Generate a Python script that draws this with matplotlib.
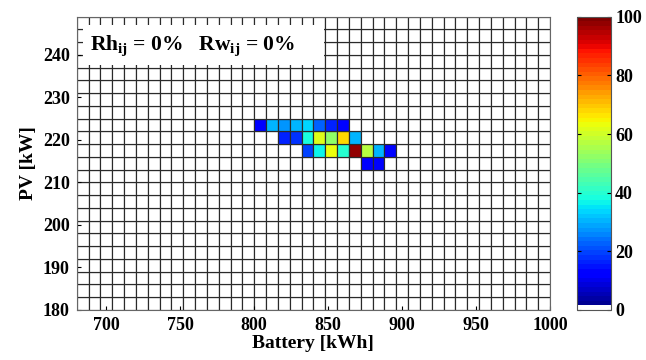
import numpy as np
import matplotlib
matplotlib.use("Agg")
import matplotlib.pyplot as plt
from matplotlib.colors import ListedColormap
from matplotlib.patches import Rectangle

# ---- data ----
battery_edges = np.arange(680, 1001, 8)      # kWh cell edges
pv_edges = np.arange(180, 250, 3)            # kW cell edges

# non-zero cells: left battery edge, lower PV edge, value (%)
cell_battery = [800, 808, 816, 824, 832, 840, 848, 856,
                816, 824, 832, 840, 848, 856, 864,
                832, 840, 848, 856, 864, 872, 880, 888,
                872, 880]
cell_pv = [222] * 8 + [219] * 7 + [216] * 8 + [213] * 2
cell_value = [12, 30, 27, 30, 33, 22, 17, 13,
              17, 18, 38, 62, 53, 68, 30,
              20, 36, 64, 40, 98, 57, 30, 14,
              12, 13]

x_ticks = [700, 750, 800, 850, 900, 950, 1000]
y_ticks = [180, 190, 200, 210, 220, 230, 240]
cbar_ticks = [0, 20, 40, 60, 80, 100]
annotation = r"Rh$_{\mathrm{ij}}$ = 0%   Rw$_{\mathrm{ij}}$ = 0%"

# ---- build grid ----
Z = np.zeros((len(pv_edges) - 1, len(battery_edges) - 1))
for b, p, v in zip(cell_battery, cell_pv, cell_value):
    i = int(np.searchsorted(pv_edges, p))
    j = int(np.searchsorted(battery_edges, b))
    Z[i, j] = v

plt.rcParams['font.family'] = ['Liberation Serif']
plt.rcParams['font.weight'] = 'bold'
plt.rcParams['mathtext.fontset'] = 'custom'
plt.rcParams['mathtext.rm'] = 'Liberation Serif:bold'
plt.rcParams['mathtext.it'] = 'Liberation Serif:bold:italic'
plt.rcParams['mathtext.bf'] = 'Liberation Serif:bold'

jet = plt.cm.jet(np.linspace(0, 1, 64))
jet[0] = [1, 1, 1, 1]
cmap = ListedColormap(jet)

fig = plt.figure(figsize=(6.46, 3.60), dpi=100)
ax = fig.add_axes([0.1187, 0.1389, 0.7327, 0.8147])
mesh = ax.pcolormesh(battery_edges, pv_edges, Z, cmap=cmap, vmin=0, vmax=100,
                     edgecolors='#2a2a2a', linewidth=0.85, antialiased=True)
ax.set_xlim(680, 1000)
ax.set_ylim(180, 249)
ax.set_xticks(x_ticks)
ax.set_yticks(y_ticks)
ax.tick_params(direction='in', length=3, labelsize=13, pad=5)
for lab in ax.get_xticklabels() + ax.get_yticklabels():
    lab.set_fontweight('bold')
for s in ax.spines.values():
    s.set_color('#666666')
ax.set_xlabel('Battery [kWh]', fontsize=14, fontweight='bold', labelpad=1)
ax.set_ylabel('PV [kW]', fontsize=14, fontweight='bold', labelpad=4)

# white label box
ax.add_patch(Rectangle((684.3, 237.6), 847.3 - 684.3, 247.0 - 237.6,
                       facecolor='white', edgecolor='none', zorder=3))
ax.text(689, 242.2, annotation, fontsize=15.5, fontweight='bold',
        va='center', ha='left', zorder=4)

cax = fig.add_axes([0.8937, 0.1389, 0.0519, 0.8147])
cb = fig.colorbar(mesh, cax=cax, ticks=cbar_ticks)
cb.ax.tick_params(direction='in', length=3, labelsize=13, pad=3, left=True)
for lab in cb.ax.get_yticklabels():
    lab.set_fontweight('bold')
cb.outline.set_edgecolor('#555555')

fig.savefig('out.png', dpi=100)
